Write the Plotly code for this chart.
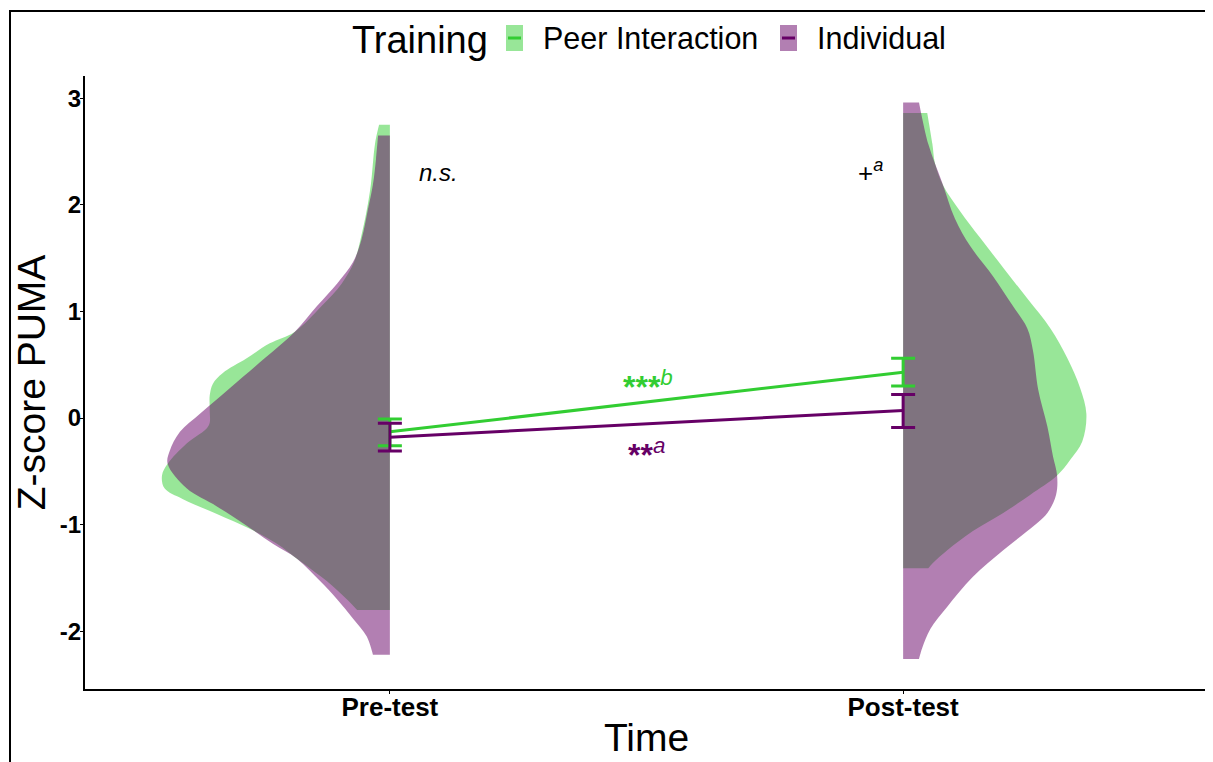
import plotly.graph_objects as go

# ---------------- data ----------------
times = ["Pre-test", "Post-test"]
time_pos = [1, 2]
groups = ["Peer Interaction", "Individual"]

line_colors = ["#32CD32", "#660066"]
fill_colors = ["rgba(50,205,50,0.5)", "rgba(102,0,102,0.5)"]

# means and error-bar limits (Z-score PUMA)
peer_mean = [-0.13, 0.43]
peer_low = [-0.26, 0.30]
peer_high = [-0.01, 0.56]
ind_mean = [-0.18, 0.07]
ind_low = [-0.31, -0.09]
ind_high = [-0.05, 0.22]

# half-violin outlines: y value and half width (x units)
pre_peer_y = [2.75, 2.57, 2.19, 1.95, 1.68, 1.46, 1.26, 1.05, 0.81, 0.70, 0.56, 0.42, 0.32, 0.21,
              0.07, -0.07, -0.24, -0.43, -0.54, -0.66, -0.76, -0.90, -1.04, -1.18, -1.32, -1.53,
              -1.70, -1.80]
pre_peer_w = [0.021, 0.029, 0.037, 0.045, 0.057, 0.070, 0.094, 0.133, 0.185, 0.234, 0.279, 0.326,
              0.345, 0.351, 0.351, 0.353, 0.396, 0.433, 0.444, 0.439, 0.404, 0.337, 0.273, 0.220,
              0.181, 0.123, 0.084, 0.064]

pre_ind_y = [2.65, 2.43, 2.19, 1.95, 1.68, 1.46, 1.26, 1.05, 0.81, 0.56, 0.28, 0.04, -0.13, -0.31,
             -0.43, -0.66, -0.83, -1.01, -1.18, -1.32, -1.53, -1.70, -1.88, -2.05, -2.22]
pre_ind_w = [0.023, 0.027, 0.033, 0.043, 0.055, 0.072, 0.103, 0.142, 0.185, 0.244, 0.312, 0.370,
             0.409, 0.429, 0.433, 0.396, 0.337, 0.279, 0.228, 0.181, 0.136, 0.103, 0.072, 0.045,
             0.033]

post_peer_y = [2.86, 2.57, 2.39, 2.18, 1.94, 1.69, 1.41, 1.12, 0.84, 0.56, 0.28, 0.04, -0.22,
               -0.39, -0.54, -0.72, -0.89, -1.06, -1.24, -1.36, -1.41]
post_peer_w = [0.047, 0.057, 0.062, 0.078, 0.111, 0.150, 0.195, 0.242, 0.287, 0.320, 0.345, 0.357,
               0.349, 0.326, 0.300, 0.248, 0.195, 0.136, 0.086, 0.058, 0.049]

post_ind_y = [2.96, 2.57, 2.21, 1.87, 1.61, 1.33, 1.05, 0.84, 0.63, 0.27, -0.08, -0.36, -0.54,
              -0.72, -0.89, -1.06, -1.24, -1.49, -1.77, -1.98, -2.16, -2.26]
post_ind_w = [0.031, 0.049, 0.076, 0.101, 0.131, 0.175, 0.214, 0.242, 0.253, 0.263, 0.281, 0.292,
              0.300, 0.298, 0.281, 0.242, 0.195, 0.136, 0.086, 0.053, 0.037, 0.031]

y_ticks = [-2, -1, 0, 1, 2, 3]
y_tick_text = ["-2", "-1", "0", "1", "2", "3"]

FONT = "Liberation Sans, Arial, sans-serif"

# ---------------- figure ----------------
fig = go.Figure()


def half_violin(center, side, ys, ws, fill):
    xs = [center + side * w for w in ws]
    # duplicate corner points to keep the flat edge straight with spline smoothing
    px = [xs[0]] + xs + [xs[-1], center, center, center, center, xs[0]]
    py = [ys[0]] + ys + [ys[-1], ys[-1], ys[-1], ys[0], ys[0], ys[0]]
    return go.Scatter(x=px, y=py, mode="lines", fill="toself", fillcolor=fill,
                      line=dict(width=0, shape="spline", smoothing=1.0),
                      hoverinfo="skip", showlegend=False)


violins = [
    (time_pos[0], -1, pre_peer_y, pre_peer_w, fill_colors[0]),
    (time_pos[0], -1, pre_ind_y, pre_ind_w, fill_colors[1]),
    (time_pos[1], 1, post_peer_y, post_peer_w, fill_colors[0]),
    (time_pos[1], 1, post_ind_y, post_ind_w, fill_colors[1]),
]
for c, s, ys, ws, f in violins:
    fig.add_trace(half_violin(c, s, ys, ws, f))

for name, col, m, lo, hi in [(groups[0], line_colors[0], peer_mean, peer_low, peer_high),
                             (groups[1], line_colors[1], ind_mean, ind_low, ind_high)]:
    fig.add_trace(go.Scatter(
        x=time_pos, y=m, mode="lines", name=name,
        line=dict(color=col, width=3),
        error_y=dict(type="data", symmetric=False,
                     array=[h - v for h, v in zip(hi, m)],
                     arrayminus=[v - l for v, l in zip(m, lo)],
                     color=col, thickness=3, width=12),
        showlegend=False, hoverinfo="skip"))

# ---------------- layout ----------------
# the page body has an 8 px margin, so the figure is drawn 8 px smaller
OFF = 8
W, H = 1213 - OFF, 762 - OFF
PL, PR, PT, PB = 85, 1208, 76, 689          # plot area in window pixels
L, T = PL - OFF, PT - OFF
R = W - (PR - OFF)
B = H - (PB - OFF)
pw, ph = PR - PL, PB - PT


def px2x(p):
    return (p - PL) / pw


def px2y(p):
    return (PB - p) / ph


annotations = [
    dict(x=1.094, y=2.30, xref="x", yref="y", text="<i>n.s.</i>", showarrow=False,
         font=dict(family=FONT, size=24, color="black")),
    dict(x=1.936, y=2.31, xref="x", yref="y", text="+<sup><i>a</i></sup>", showarrow=False,
         font=dict(family=FONT, size=26, color="black")),
    dict(x=1.503, y=0.31, xref="x", yref="y", text="<b>***</b><sup><i>b</i></sup>",
         showarrow=False, font=dict(family=FONT, size=32, color=line_colors[0])),
    dict(x=1.500, y=-0.33, xref="x", yref="y", text="<b>**</b><sup><i>a</i></sup>",
         showarrow=False, font=dict(family=FONT, size=32, color=line_colors[1])),
    # legend texts
    dict(x=px2x(350), y=px2y(40), xref="paper", yref="paper", text="Training", showarrow=False,
         xanchor="left", yanchor="middle", font=dict(family=FONT, size=38, color="black")),
    dict(x=px2x(541), y=px2y(38), xref="paper", yref="paper", text=groups[0], showarrow=False,
         xanchor="left", yanchor="middle", font=dict(family=FONT, size=30.5, color="black")),
    dict(x=px2x(815), y=px2y(38), xref="paper", yref="paper", text=groups[1], showarrow=False,
         xanchor="left", yanchor="middle", font=dict(family=FONT, size=30.5, color="black")),
]

shapes = [
    # legend keys
    dict(type="rect", xref="paper", yref="paper", x0=px2x(506), x1=px2x(523), y0=px2y(51),
         y1=px2y(25), fillcolor=fill_colors[0], line=dict(width=0)),
    dict(type="line", xref="paper", yref="paper", x0=px2x(508), x1=px2x(521), y0=px2y(38),
         y1=px2y(38), line=dict(color=line_colors[0], width=3)),
    dict(type="rect", xref="paper", yref="paper", x0=px2x(780), x1=px2x(797), y0=px2y(51),
         y1=px2y(25), fillcolor=fill_colors[1], line=dict(width=0)),
    dict(type="line", xref="paper", yref="paper", x0=px2x(782), x1=px2x(795), y0=px2y(38),
         y1=px2y(38), line=dict(color=line_colors[1], width=3)),
    # outer frame of the image
    dict(type="line", xref="paper", yref="paper", x0=px2x(9), x1=px2x(1215), y0=px2y(11),
         y1=px2y(11), line=dict(color="black", width=2)),
    dict(type="line", xref="paper", yref="paper", x0=px2x(10), x1=px2x(10), y0=px2y(11),
         y1=px2y(765), line=dict(color="black", width=2)),
]

fig.update_layout(
    width=W, height=H,
    margin=dict(l=L, r=R, t=T, b=B, pad=0, autoexpand=False),
    paper_bgcolor="white", plot_bgcolor="white",
    showlegend=False,
    annotations=annotations,
    shapes=shapes,
    font=dict(family=FONT, color="black"),
    xaxis=dict(
        range=[0.406, 2.594], tickvals=time_pos,
        ticktext=["<b>%s</b>" % t for t in times],
        tickfont=dict(family=FONT, size=26, color="black"),
        showline=True, linecolor="black", linewidth=2,
        ticks="outside", ticklen=3, tickcolor="black", tickwidth=1,
        ticklabelstandoff=-9,
        showgrid=False, zeroline=False, automargin=False,
        title=dict(text="Time", font=dict(family=FONT, size=39, color="black"), standoff=2),
    ),
    yaxis=dict(
        range=[-2.542, 3.208], tickvals=y_ticks,
        ticktext=["<b>%s</b>" % t for t in y_tick_text],
        tickfont=dict(family=FONT, size=24, color="black"),
        showline=True, linecolor="black", linewidth=2,
        ticks="outside", ticklen=3, tickcolor="black", tickwidth=1,
        ticklabelstandoff=-6,
        showgrid=False, zeroline=False, automargin=False,
        title=dict(text="Z-score PUMA", font=dict(family=FONT, size=39, color="black"), standoff=2),
    ),
)

fig.write_html("out.html")
